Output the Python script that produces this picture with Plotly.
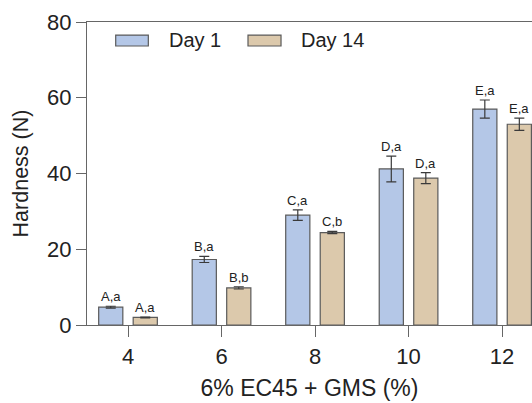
import plotly.graph_objects as go

categories = ["4", "6", "8", "10", "12"]
day1 = [4.7, 17.3, 29.0, 41.2, 57.0]
day1_err = [0.25, 0.8, 1.4, 3.4, 2.4]
day14 = [2.0, 9.8, 24.4, 38.8, 53.0]
day14_err = [0.1, 0.3, 0.3, 1.45, 1.6]
day1_labels = ["A,a", "B,a", "C,a", "D,a", "E,a"]
day14_labels = ["A,a", "B,b", "C,b", "D,a", "E,a"]
series_names = ["Day 1", "Day 14"]
yticks = [0, 20, 40, 60, 80]

C1 = "#b4c7e7"
C14 = "#dcc9ac"
EDGE = "#5a5a5a"
FONT = "Arial, Liberation Sans, sans-serif"

fig = go.Figure()
for name, vals, errs, col, off in [
    (series_names[0], day1, day1_err, C1, 0),
    (series_names[1], day14, day14_err, C14, 1),
]:
    fig.add_trace(go.Bar(
        x=categories, y=vals, name=name,
        marker=dict(color=col, line=dict(color=EDGE, width=1.2)),
        error_y=dict(type="data", array=errs, color="#3a3a3a", thickness=1.2, width=5),
        offsetgroup=str(off), showlegend=False,
    ))

# letter annotations above error bars
for labels, vals, errs, shift in [(day1_labels, day1, day1_err, -0.1845), (day14_labels, day14, day14_err, 0.1845)]:
    for i, (lab, v, e) in enumerate(zip(labels, vals, errs)):
        fig.add_annotation(x=i + shift, y=v + e, xref="x", yref="y", text=lab,
                           showarrow=False, yanchor="bottom", yshift=0,
                           font=dict(family=FONT, size=13, color="#222"))

# custom legend
for (x0, x1), col, txt, tx in [((0.0645, 0.1378), C1, series_names[0], 0.179),
                               ((0.3618, 0.436), C14, series_names[1], 0.4764)]:
    fig.add_shape(type="rect", xref="paper", yref="paper", x0=x0, x1=x1,
                  y0=0.9208, y1=0.957, fillcolor=col, line=dict(color=EDGE, width=1.2))
    fig.add_annotation(xref="paper", yref="paper", x=tx, y=0.939, text=txt,
                       showarrow=False, xanchor="left", yanchor="middle",
                       font=dict(family=FONT, size=20, color="#222"))

fig.update_layout(
    width=532, height=403,
    margin=dict(l=87, r=0, t=22, b=78),
    plot_bgcolor="white", paper_bgcolor="white",
    barmode="group", bargap=0.262, bargroupgap=0.30,
    font=dict(family=FONT, color="#222"),
    xaxis=dict(type="category", range=[-0.4385, 4.32], showline=True, linecolor="#666",
               linewidth=1.2, mirror=True, ticks="outside", ticklen=11, tickcolor="#666",
               tickwidth=1.2, tickfont=dict(size=22), showgrid=False,
               title=dict(text="6% EC45 + GMS (%)", font=dict(size=23), standoff=12)),
    yaxis=dict(range=[0, 80], tickvals=yticks, showline=True, linecolor="#666", linewidth=1.2,
               ticks="outside", ticklen=10, tickcolor="#666", tickwidth=1.2,
               tickfont=dict(size=22), showgrid=False, zeroline=False,
               title=dict(text="Hardness (N)", font=dict(size=21.5), standoff=12)),
)

fig.write_html("out.html")
